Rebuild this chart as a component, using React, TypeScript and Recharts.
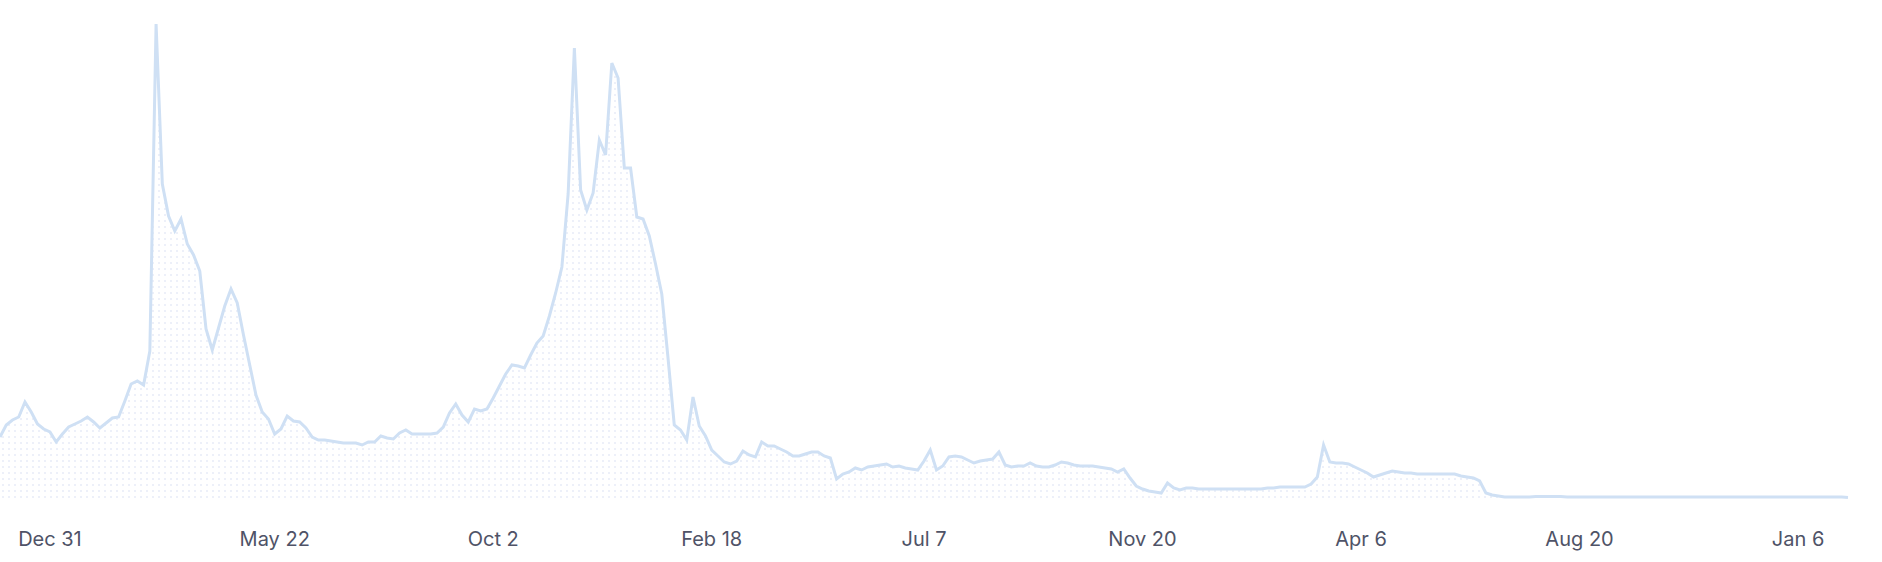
import { AreaChart, Area, XAxis, YAxis } from "recharts";

// heights, one per point, baseline = 0
const values = [
  61, 73, 78, 81, 96, 86, 74, 69, 66, 56,
  64, 71, 74, 77, 81, 76, 70, 75, 80, 81,
  97, 114, 117, 113, 147, 474, 314, 282, 267, 279,
  254, 243, 227, 169, 148, 170, 192, 209, 195, 163,
  133, 103, 86, 79, 64, 69, 82, 77, 76, 70,
  61, 58, 58, 57, 56, 55, 55, 55, 53, 56,
  56, 62, 60, 59, 65, 68, 64, 64, 64, 64,
  65, 71, 85, 94, 83, 76, 89, 87, 89, 100,
  112, 124, 133, 132, 130, 143, 155, 162, 182, 205,
  231, 304, 450, 308, 288, 305, 358, 343, 435, 420,
  330, 330, 281, 279, 262, 234, 204, 140, 73, 68,
  58, 101, 72, 62, 48, 42, 36, 34, 37, 47,
  43, 41, 56, 52, 52, 49, 46, 42, 42, 44,
  46, 46, 42, 40, 19, 24, 26, 30, 28, 31,
  32, 33, 34, 31, 32, 30, 29, 28, 37, 48,
  28, 32, 41, 42, 41, 38, 35, 37, 38, 39,
  46, 33, 31, 32, 32, 35, 32, 31, 31, 33,
  36, 35, 33, 32, 32, 32, 31, 30, 29, 26,
  29, 20, 12, 9, 7, 6, 5, 15, 10, 8,
  10, 10, 9, 9, 9, 9, 9, 9, 9, 9,
  9, 9, 9, 10, 10, 11, 11, 11, 11, 11,
  14, 21, 53, 36, 35, 35, 34, 31, 28, 25,
  21, 23, 25, 27, 26, 25, 25, 24, 24, 24,
  24, 24, 24, 24, 22, 21, 20, 17, 5, 3,
  2, 1, 1, 1, 1, 1, 1.5, 1.5, 1.5, 1.5,
  1.5, 1, 1, 1, 1, 1, 1, 1, 1, 1,
  1, 1, 1, 1, 1, 1, 1, 1, 1, 1,
  1, 1, 1, 1, 1, 1, 1, 1, 1, 1,
  1, 1, 1, 1, 1, 1, 1, 1, 1, 1,
  1, 1, 1, 1, 1, 1, 0.5,
];

// point index where each date label sits
const tickIndex = [8, 44, 79, 114, 148, 183, 218, 253, 288];
const tickLabels = ["Dec 31", "May 22", "Oct 2", "Feb 18", "Jul 7", "Nov 20", "Apr 6", "Aug 20", "Jan 6"];

const data = values.map((v, i) => ({ i, v }));

const App = () => {
  return (
    <div style={{ position: "absolute", left: 0, top: 0, background: "#fff" }}>
      <AreaChart
        width={1882}
        height={562}
        data={data}
        margin={{ top: 24, right: 34, left: 0, bottom: 0 }}
      >
        <defs>
          <pattern id="dots" x="0" y="2" width="6" height="6" patternUnits="userSpaceOnUse">
            <circle cx="3" cy="3" r="1.1" fill="#e9edf8" />
          </pattern>
        </defs>
        <XAxis
          dataKey="i"
          type="category"
          ticks={tickIndex}
          interval={0}
          tickFormatter={(t) => tickLabels[tickIndex.indexOf(Number(t))]}
          axisLine={false}
          tickLine={false}
          tickMargin={28}
          height={64}
          tick={{ fill: "#4f5367", fontSize: 20, fontFamily: "Inter" }}
        />
        <YAxis hide domain={[0, 474]} />
        <Area
          type="linear"
          dataKey="v"
          stroke="#cfe0f4"
          strokeWidth={3}
          fill="url(#dots)"
          fillOpacity={1}
          dot={false}
          activeDot={false}
          isAnimationActive={false}
        />
      </AreaChart>
    </div>
  );
};

export default App;
